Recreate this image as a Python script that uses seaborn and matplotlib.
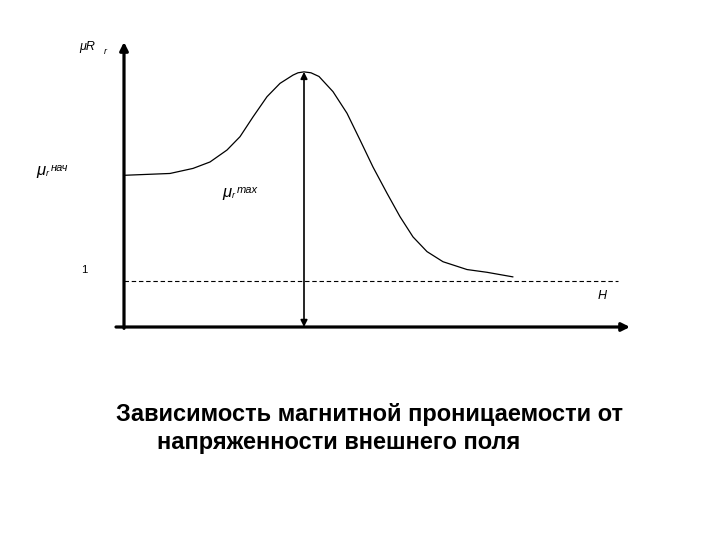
import matplotlib
matplotlib.use("Agg")
import matplotlib.pyplot as plt
import seaborn as sns
import numpy as np

sns.set_style("white")
plt.rcParams['font.family'] = ['Liberation Sans', 'DejaVu Sans']
plt.rcParams['text.color'] = 'black'

# Data (H arbitrary units, relative permeability)
H = [0.0, 0.92, 1.38, 1.72, 2.06, 2.32, 2.58, 2.86, 3.12, 3.38, 3.48, 3.60,
     3.74, 3.90, 4.18, 4.46, 4.72, 4.98, 5.26, 5.52, 5.78, 6.06, 6.38, 6.86,
     7.26, 7.78]
mu = [3.30, 3.34, 3.45, 3.59, 3.85, 4.14, 4.57, 5.01, 5.30, 5.48, 5.53, 5.55,
      5.53, 5.45, 5.12, 4.65, 4.07, 3.48, 2.91, 2.40, 1.96, 1.64, 1.42, 1.25,
      1.19, 1.09]
mu_one = 1.0
H_end_dashed = 9.88
title_lines = ["Зависимость магнитной проницаемости от",
               "напряженности внешнего поля"]

W, Hh = 720, 540
fig = plt.figure(figsize=(7.2, 5.4), dpi=100)
ax = fig.add_axes([124 / W, 1 - 327 / Hh, 506 / W, 285 / Hh])
ax.set_xlim(0, 10.12)
ax.set_ylim(0, 6.2)
ax.axis('off')

sns.lineplot(x=H, y=mu, ax=ax, color='black', lw=0.9, sort=False)

# dashed level mu = 1
ax.plot([0, H_end_dashed], [mu_one, mu_one], ls=(0, (4, 2.5)), color='black', lw=0.8)

# peak marker
ip = int(np.argmax(mu))
ax.annotate('', xy=(H[ip], mu[ip]), xytext=(H[ip], 0),
            arrowprops=dict(arrowstyle='<|-|>', color='black', lw=1.2,
                            mutation_scale=10, shrinkA=0, shrinkB=0),
            annotation_clip=False)

# axes with arrows
ax.annotate('', xy=(0, 6.2), xytext=(0, -0.03),
            arrowprops=dict(arrowstyle='-|>', color='black', lw=2.3,
                            mutation_scale=12, shrinkA=0, shrinkB=0),
            annotation_clip=False)
ax.annotate('', xy=(10.12, 0), xytext=(-0.16, 0),
            arrowprops=dict(arrowstyle='-|>', color='black', lw=2.3,
                            mutation_scale=12, shrinkA=0, shrinkB=0),
            annotation_clip=False)


def t(x, y, s, **kw):
    fig.text(x / W, 1 - y / Hh, s, va='center', ha='left', **kw)


t(79, 47, "μR", fontsize=9, style='italic')
t(104, 51, "r", fontsize=6.5, style='italic')
t(36, 170, "μ", fontsize=12, style='italic')
t(46, 174, "r", fontsize=6.5, style='italic')
t(51, 168, "нач", fontsize=8, style='italic')
t(222, 192, "μ", fontsize=12, style='italic')
t(232, 196, "r", fontsize=6.5, style='italic')
t(237, 190, "max", fontsize=8, style='italic')
t(81, 270, "1", fontsize=8)
t(598, 296, "H", fontsize=9, style='italic')

t(116, 414, title_lines[0], fontsize=17, fontweight='bold')
t(157, 443, title_lines[1], fontsize=17, fontweight='bold')

fig.savefig("out.png", dpi=100)
